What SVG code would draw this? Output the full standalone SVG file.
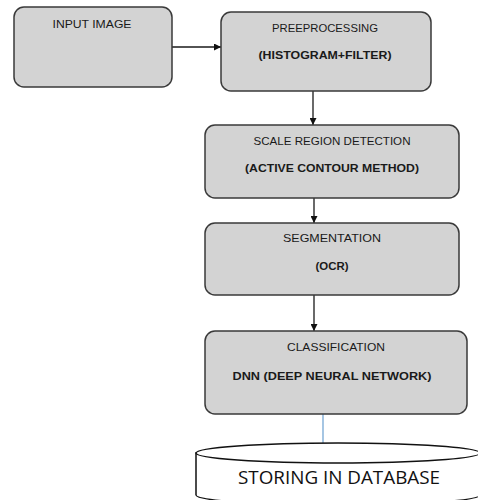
<svg xmlns="http://www.w3.org/2000/svg" width="478" height="500" viewBox="0 0 478 500">
<style>
.box{fill:#d3d3d3;stroke:#3a3a3a;stroke-width:1.5}
.t{font-family:"Liberation Sans",Arial,sans-serif;font-size:11.5px;fill:#1a1a1a;text-anchor:middle}
.b{font-weight:bold}
.c{stroke:#1a1a1a;stroke-width:1.3;fill:none}
.db{fill:#ffffff;stroke:#111;stroke-width:1.5}
</style>
<defs>
<marker id="ah" viewBox="0 0 10 10" refX="10" refY="5" markerWidth="7" markerHeight="7" orient="auto" markerUnits="userSpaceOnUse">
<path d="M0,0 L10,5 L0,10 z" fill="#111"/>
</marker>
</defs>
<rect width="478" height="500" fill="#ffffff"/>
<g id="connectors">
<line class="c" x1="172" y1="47" x2="221" y2="47" marker-end="url(#ah)"/>
<line class="c" x1="313" y1="91" x2="313" y2="125" marker-end="url(#ah)"/>
<line class="c" x1="314" y1="198" x2="314" y2="223" marker-end="url(#ah)"/>
<line class="c" x1="314" y1="295" x2="314" y2="331" marker-end="url(#ah)"/>
<line x1="323" y1="414" x2="323" y2="443" stroke="#6a9fd0" stroke-width="1.2"/>
</g>
<g id="input">
<rect class="box" x="14" y="7" width="158" height="80" rx="10"/>
<text class="t" x="92" y="28" textLength="79" lengthAdjust="spacingAndGlyphs">INPUT IMAGE</text>
</g>
<g id="preprocessing">
<rect class="box" x="221" y="12" width="210" height="79" rx="10"/>
<text class="t" x="325" y="32" textLength="106" lengthAdjust="spacingAndGlyphs">PREEPROCESSING</text>
<text class="t b" x="325" y="59" textLength="133" lengthAdjust="spacingAndGlyphs">(HISTOGRAM+FILTER)</text>
</g>
<g id="scale">
<rect class="box" x="205" y="125" width="254" height="73" rx="10"/>
<text class="t" x="332" y="145" textLength="157" lengthAdjust="spacingAndGlyphs">SCALE REGION DETECTION</text>
<text class="t b" x="332" y="172" textLength="174" lengthAdjust="spacingAndGlyphs">(ACTIVE CONTOUR METHOD)</text>
</g>
<g id="segmentation">
<rect class="box" x="205" y="223" width="254" height="72" rx="10"/>
<text class="t" x="332" y="242" textLength="98" lengthAdjust="spacingAndGlyphs">SEGMENTATION</text>
<text class="t b" x="332" y="270" textLength="33" lengthAdjust="spacingAndGlyphs">(OCR)</text>
</g>
<g id="classification">
<rect class="box" x="205" y="331" width="262" height="83" rx="10"/>
<text class="t" x="336" y="351" textLength="98" lengthAdjust="spacingAndGlyphs">CLASSIFICATION</text>
<text class="t b" x="332" y="380" textLength="199" lengthAdjust="spacingAndGlyphs">DNN (DEEP NEURAL NETWORK)</text>
</g>
<g id="database">
<path class="db" d="M196,453 L196,495 A142,10 0 0 0 480,495 L480,453 Z"/>
<ellipse class="db" cx="338" cy="453" rx="142" ry="10"/>
<text x="339" y="484" font-family="'Open Sans','Liberation Sans',sans-serif" font-size="19" fill="#111" text-anchor="middle" textLength="202" lengthAdjust="spacingAndGlyphs">STORING IN DATABASE</text>
</g>
</svg>
